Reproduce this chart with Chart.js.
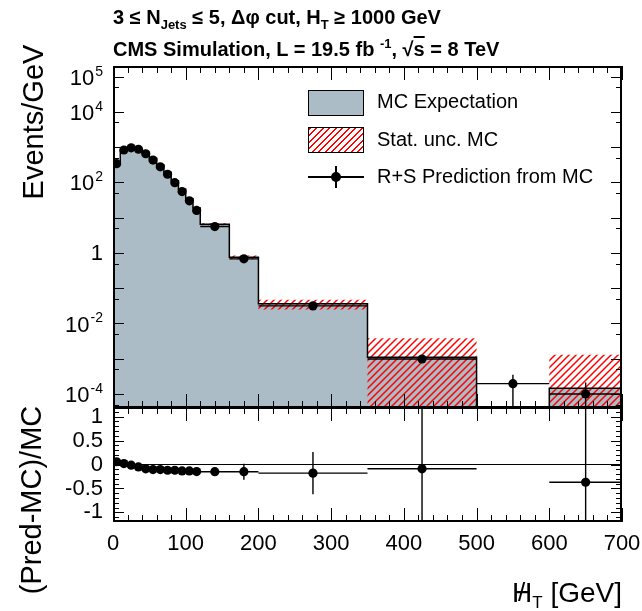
<!DOCTYPE html>
<html>
<head>
<meta charset="utf-8">
<script src="https://cdn.jsdelivr.net/npm/chart.js@4.4.1/dist/chart.umd.min.js"></script>
<style>
  html, body { margin: 0; padding: 0; background: #fff; }
  #wrap { position: relative; width: 642px; height: 611px; overflow: hidden;
          font-family: "Liberation Sans", Arial, Helvetica, sans-serif; color: #000; }
  #wrap canvas { position: absolute; left: 0; top: 0; }
  .txt { position: absolute; white-space: nowrap; line-height: 1; }
  .title { font-weight: bold; font-size: 20px; left: 113px; }
  .title sub { font-size: 13px; vertical-align: -5px; }
  .title sup { font-size: 13px; vertical-align: 8px; }
  .ytitle { font-size: 29px; transform: translate(-50%, -50%) rotate(-90deg); }
  .legtext { font-size: 20px; left: 377px; }
  .legbox { position: absolute; left: 308px; width: 56px; height: 26px; border: 1px solid #000; box-sizing: border-box; }
</style>
</head>
<body>
<div id="wrap">
  <canvas id="mainChart" width="642" height="611"></canvas>
  <canvas id="ratioChart" width="642" height="611"></canvas>

  <div class="txt title" style="top:7px;">3 &le; N<sub>Jets</sub> &le; 5, &Delta;&phi; cut, H<sub>T</sub> &ge; 1000 GeV</div>
  <div class="txt title" style="top:37px;">CMS Simulation, L = 19.5 fb <sup>-1</sup>, &radic;<span style="text-decoration:overline">s</span> = 8 TeV</div>

  <div class="txt ytitle" style="left:33px; top:122px;">Events/GeV</div>
  <div class="txt ytitle" style="left:31px; top:500px;">(Pred-MC)/MC</div>
  <div class="txt" style="right:20px; top:579px; font-size:28px;"><span style="position:relative; display:inline-block;">H<span style="position:absolute; left:6px; top:0; font-size:26px;">/</span></span><sub style="font-size:17px; vertical-align:-6px;">T</sub> [GeV]</div>

  <!-- legend -->
  <div class="legbox" style="top:90px; background:#abbcc6;"></div>
  <div class="legbox" style="top:127px; background:repeating-linear-gradient(135deg, #f00 0 1.5px, transparent 1.5px 4.6px);"></div>
  <div style="position:absolute; left:308px; top:176px; width:56px; height:1.5px; background:#000;"></div>
  <div style="position:absolute; left:335px; top:166px; width:1.5px; height:22px; background:#000;"></div>
  <div style="position:absolute; left:331px; top:172px; width:10px; height:10px; border-radius:50%; background:#000;"></div>
  <div class="txt legtext" style="top:91px;">MC Expectation</div>
  <div class="txt legtext" style="top:129px;">Stat. unc. MC</div>
  <div class="txt legtext" style="top:166px;">R+S Prediction from MC</div>
</div>

<script>
// Bin edges of the missing-HT histogram (GeV)
const BIN_EDGES = [0, 10, 20, 30, 40, 50, 60, 70, 80, 90, 100, 110, 120, 160, 200, 350, 500, 600, 700];

// MC expectation (Events/GeV) and its statistical uncertainty
const MC_EXPECTATION = [321, 814, 969, 916, 714, 481, 310, 193, 111, 63.5, 34.6, 18.8, 6.5, 0.75, 0.036, 0.0011, 0, 0.000145];
const MC_STAT_UNC = [4, 8, 9, 8, 7, 5, 4, 3, 2, 1.3, 0.9, 0.6, 0.45, 0.09, 0.011, 0.0027, 0, 0.00115];

// Rebalance+Smear prediction from MC
const RS_PREDICTION = [339, 830, 955, 870, 650, 430, 277, 170, 98, 55, 30, 16, 5.6, 0.68, 0.0315, 0.00098, 0.000196, 0.0001];
const RS_PRED_UNC = [3, 5, 5, 5, 4, 3, 2.5, 2, 1.5, 1, 0.6, 0.4, 0.2, 0.04, 0.003, 0.0002, 0.000155, 0.00011];

// (Pred-MC)/MC
const RATIO = [0.057, 0.02, -0.014, -0.05, -0.09, -0.106, -0.106, -0.12, -0.12, -0.134, -0.134, -0.148, -0.15, -0.15, -0.18, -0.09, null, -0.37];
const RATIO_UNC = [0.015, 0.01, 0.01, 0.01, 0.01, 0.012, 0.014, 0.016, 0.02, 0.025, 0.03, 0.04, 0.06, 0.166, 0.44, 2.5, null, 4];

// Axis ticks
const X_TICK_LABELS = [0, 100, 200, 300, 400, 500, 600, 700];
const LOG_TICK_LABELS = [1e-4, 1e-2, 1, 1e2, 1e4, 1e5];
const RATIO_TICK_LABELS = [-1, -0.5, 0, 0.5, 1];

const Y_MIN = 4e-5, Y_MAX = 2e5;
const RATIO_MIN = -1.2, RATIO_MAX = 1.2;
const FONT = '"Liberation Sans", Arial, Helvetica, sans-serif';
const MC_GREY = '#abbcc6';

// minor ticks
const xMinor = [];
for (let v = 0; v <= 700; v += 20) xMinor.push(v);
const logMajor = [], logMinor = [];
for (let e = -5; e <= 5; e++) { logMajor.push(Math.pow(10, e)); logMinor.push(5 * Math.pow(10, e)); }
const ratioMinor = [];
for (let v = -12; v <= 12; v++) ratioMinor.push(v / 10);

// step outline for a histogram, values <= 0 are pushed below the axis
function histPoints(values, floor) {
  const pts = values.map((v, i) => ({ x: BIN_EDGES[i], y: v > 0 ? v : floor }));
  pts.push({ x: BIN_EDGES[BIN_EDGES.length - 1], y: pts[pts.length - 1].y });
  return pts;
}

function binCenters(values) {
  const pts = [];
  values.forEach((v, i) => {
    if (v === null) return;
    pts.push({ x: (BIN_EDGES[i] + BIN_EDGES[i + 1]) / 2, y: v });
  });
  return pts;
}

// horizontal bin-width bar + vertical error bar, separated by gaps
function errorBars(values, errors, floor) {
  const pts = [];
  values.forEach((v, i) => {
    if (v === null) return;
    const lo = BIN_EDGES[i], hi = BIN_EDGES[i + 1], c = (lo + hi) / 2;
    pts.push({ x: lo, y: v }, { x: hi, y: v }, { x: c, y: null });
    pts.push({ x: c, y: Math.max(v - errors[i], floor) }, { x: c, y: v + errors[i] }, { x: c, y: null });
  });
  return pts;
}

function makeHatch(ctx) {
  const s = 7;
  const c = document.createElement('canvas');
  c.width = s; c.height = s;
  const g = c.getContext('2d');
  g.strokeStyle = '#ff0000';
  g.lineWidth = 1.5;
  g.beginPath();
  g.moveTo(0, s); g.lineTo(s, 0);
  g.moveTo(-s / 2, s / 2); g.lineTo(s / 2, -s / 2);
  g.moveTo(s / 2, s * 1.5); g.lineTo(s * 1.5, s / 2);
  g.stroke();
  return ctx.createPattern(c, 'repeat');
}

// ROOT-like frame with inward ticks on all four sides
const rootFrame = {
  id: 'rootFrame',
  afterDatasetsDraw(chart, args, opts) {
    const { ctx, chartArea: a } = chart;
    const xs = chart.scales.x, ys = chart.scales.y;
    ctx.save();
    ctx.strokeStyle = '#000';
    ctx.lineWidth = 1;
    ctx.beginPath();
    const vTick = (v, len) => {
      const px = Math.round(xs.getPixelForValue(v)) + 0.5;
      ctx.moveTo(px, a.bottom); ctx.lineTo(px, a.bottom - len);
      ctx.moveTo(px, a.top); ctx.lineTo(px, a.top + len);
    };
    const hTick = (v, len) => {
      const py = Math.round(ys.getPixelForValue(v)) + 0.5;
      if (py < a.top + 2 || py > a.bottom - 2) return;
      ctx.moveTo(a.left, py); ctx.lineTo(a.left + len, py);
      ctx.moveTo(a.right, py); ctx.lineTo(a.right - len, py);
    };
    xMinor.forEach(v => vTick(v, opts.xMinorLen));
    X_TICK_LABELS.forEach(v => vTick(v, opts.xMajorLen));
    opts.yMinor.forEach(v => hTick(v, 6));
    opts.yMajor.forEach(v => hTick(v, 11));
    ctx.stroke();
    ctx.lineWidth = 2;
    ctx.strokeRect(a.left + 1, a.top + 1, a.width - 2, a.height - 2);

    if (opts.logLabels) {
      ctx.fillStyle = '#000';
      ctx.textAlign = 'right';
      opts.logLabels.forEach(v => {
        const py = ys.getPixelForValue(v);
        const exp = Math.round(Math.log10(v));
        const right = a.left - 10;
        if (exp === 0) {
          ctx.font = '22px ' + FONT;
          ctx.textBaseline = 'middle';
          ctx.fillText('1', right, py + 1);
        } else {
          ctx.font = '14px ' + FONT;
          ctx.textBaseline = 'alphabetic';
          const ew = ctx.measureText(String(exp)).width;
          ctx.fillText(String(exp), right, py - 1);
          ctx.font = '22px ' + FONT;
          ctx.textBaseline = 'middle';
          ctx.fillText('10', right - ew - 1, py + 2);
        }
      });
    }
    ctx.restore();
  }
};

const mainCanvas = document.getElementById('mainChart');
const hatch = makeHatch(mainCanvas.getContext('2d'));
const FLOOR = Y_MIN / 10;

new Chart(mainCanvas, {
  type: 'line',
  data: {
    datasets: [
      { // MC expectation fill
        data: histPoints(MC_EXPECTATION, FLOOR),
        stepped: 'before', fill: 'start', backgroundColor: MC_GREY,
        borderWidth: 0, pointRadius: 0, order: 5
      },
      { // stat. band upper edge
        data: histPoints(MC_EXPECTATION.map((v, i) => v + MC_STAT_UNC[i]), FLOOR),
        stepped: 'before', fill: false, borderWidth: 0, borderColor: 'transparent',
        pointRadius: 0, order: 4
      },
      { // stat. band lower edge, hatched fill to the upper one
        data: histPoints(MC_EXPECTATION.map((v, i) => v - MC_STAT_UNC[i]), FLOOR),
        stepped: 'before', fill: '-1', backgroundColor: hatch, borderWidth: 0,
        borderColor: 'transparent', pointRadius: 0, order: 4
      },
      { // MC outline
        data: histPoints(MC_EXPECTATION, FLOOR),
        stepped: 'before', fill: false, borderColor: '#000', borderWidth: 1.5,
        pointRadius: 0, order: 3
      },
      { // prediction error bars
        data: errorBars(RS_PREDICTION, RS_PRED_UNC, FLOOR),
        fill: false, borderColor: '#000', borderWidth: 1.4, pointRadius: 0,
        spanGaps: false, order: 2
      },
      { // prediction markers
        data: binCenters(RS_PREDICTION),
        showLine: false, pointRadius: 4.6, pointBackgroundColor: '#000',
        pointBorderWidth: 0, order: 1
      }
    ]
  },
  options: {
    responsive: false,
    animation: false,
    devicePixelRatio: 1,
    events: [],
    layout: { padding: { left: 113, right: 20, top: 66, bottom: 611 - 408 } },
    plugins: {
      legend: { display: false },
      tooltip: { enabled: false },
      rootFrame: {
        xMajorLen: 14, xMinorLen: 7,
        yMajor: logMajor, yMinor: logMinor,
        logLabels: LOG_TICK_LABELS
      }
    },
    scales: {
      x: { type: 'linear', display: false, min: 0, max: 700 },
      y: { type: 'logarithmic', display: false, min: Y_MIN, max: Y_MAX }
    }
  },
  plugins: [rootFrame]
});

// fixed axis sizes so the ratio frame lines up with the main one
function fixSize(prop, size) {
  return s => {
    s[prop] = size;
    s.paddingLeft = 0; s.paddingRight = 0; s.paddingTop = 0; s.paddingBottom = 0;
  };
}

new Chart(document.getElementById('ratioChart'), {
  type: 'line',
  data: {
    datasets: [
      { // zero line
        data: [{ x: 0, y: 0 }, { x: 700, y: 0 }],
        borderColor: '#000', borderWidth: 1, pointRadius: 0, order: 3
      },
      {
        data: errorBars(RATIO, RATIO_UNC, -10),
        fill: false, borderColor: '#000', borderWidth: 1.4, pointRadius: 0,
        spanGaps: false, order: 2
      },
      {
        data: binCenters(RATIO),
        showLine: false, pointRadius: 4.6, pointBackgroundColor: '#000',
        pointBorderWidth: 0, order: 1
      }
    ]
  },
  options: {
    responsive: false,
    animation: false,
    devicePixelRatio: 1,
    events: [],
    layout: { padding: { left: 0, right: 20, top: 407, bottom: 0 } },
    plugins: {
      legend: { display: false },
      tooltip: { enabled: false },
      rootFrame: {
        xMajorLen: 14, xMinorLen: 7,
        yMajor: RATIO_TICK_LABELS, yMinor: ratioMinor
      }
    },
    scales: {
      x: {
        type: 'linear', min: 0, max: 700,
        grid: { display: false, drawTicks: false },
        border: { display: false },
        afterBuildTicks: s => { s.ticks = X_TICK_LABELS.map(v => ({ value: v })); },
        afterFit: fixSize('height', 611 - 522),
        ticks: {
          autoSkip: false, maxRotation: 0, padding: 9, color: '#000',
          font: { family: FONT, size: 22 },
          callback: v => String(v)
        }
      },
      y: {
        type: 'linear', min: RATIO_MIN, max: RATIO_MAX,
        grid: { display: false, drawTicks: false },
        border: { display: false },
        afterBuildTicks: s => { s.ticks = RATIO_TICK_LABELS.map(v => ({ value: v })); },
        afterFit: fixSize('width', 113),
        ticks: {
          autoSkip: false, padding: 10, color: '#000',
          font: { family: FONT, size: 22 },
          callback: v => String(v)
        }
      }
    }
  },
  plugins: [rootFrame]
});
</script>
</body>
</html>
